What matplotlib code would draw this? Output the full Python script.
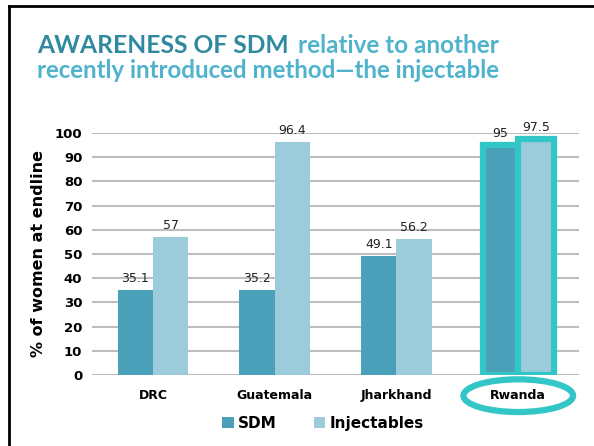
import numpy as np
from matplotlib import pyplot as plt
from matplotlib.patches import Ellipse
from matplotlib.lines import Line2D

# data
countries = ['DRC', 'Guatemala', 'Jharkhand', 'Rwanda']
sdm = [35.1, 35.2, 49.1, 95]
injectables = [57, 96.4, 56.2, 97.5]
yticks = [0, 10, 20, 30, 40, 50, 60, 70, 80, 90, 100]

sdm_col = '#4aa0b8'
inj_col = '#9ccbdc'
hl_col = '#33c6c6'
dark_title = '#2f8aa0'
light_title = '#4fb3cc'

fig = plt.figure(figsize=(5.94, 4.46), dpi=100)
ax = fig.add_axes([0.155, 0.159, 0.82, 0.543])

x = np.arange(len(countries))
w = 0.29
b1 = ax.bar(x - w / 2, sdm, w, color=sdm_col, zorder=3, label='SDM')
b2 = ax.bar(x + w / 2, injectables, w, color=inj_col, zorder=3, label='Injectables')

# highlight rwanda
for b in (b1[3], b2[3]):
    b.set_edgecolor(hl_col)
    b.set_linewidth(4.5)

for xi, v in zip(x - w / 2, sdm):
    ax.text(xi, v + 2, f'{v:g}', ha='center', va='bottom', fontsize=9, color='#222222')
for xi, v in zip(x + w / 2, injectables):
    ax.text(xi, v + 2, f'{v:g}', ha='center', va='bottom', fontsize=9, color='#222222')

ax.set_xlim(-0.5, 3.5)
ax.set_ylim(0, 100)
ax.set_yticks(yticks)
ax.set_xticks(x)
ax.set_xticklabels(countries, fontsize=9, fontweight='bold')
ax.set_yticklabels([str(t) for t in yticks], fontsize=9.5, fontweight='bold')
ax.tick_params(length=0)
ax.tick_params(axis='x', pad=10)
ax.tick_params(axis='y', pad=7)
ax.yaxis.grid(True, color='#bdbdbd', linewidth=1.5, zorder=0)
for s in ax.spines.values():
    s.set_visible(False)
ax.set_ylabel('% of women at endline', fontsize=11.5, fontweight='bold', labelpad=6)

# ring round rwanda label
ell = Ellipse((3, -8.5), 0.9, 13.5, fill=False, edgecolor=hl_col, linewidth=4.5, clip_on=False, zorder=5)
ax.add_patch(ell)

ax.legend(loc='upper center', bbox_to_anchor=(0.474, -0.112), ncol=2, frameon=False,
          prop={'weight': 'bold', 'size': 11}, handlelength=0.75, handleheight=0.75,
          handletextpad=0.3, columnspacing=2.4)

# title
t1 = fig.text(37 / 594, 1 - 53 / 446, 'AWARENESS OF SDM', fontsize=17.7, fontweight='bold',
              color=dark_title, family='Lato')
fig.canvas.draw()
bb = t1.get_window_extent()
fig.text((bb.x1 + 9) / 594, 1 - 53 / 446, 'relative to another', fontsize=17.5, fontweight='bold',
         color=light_title, family='Lato')
fig.text(37 / 594, 1 - 78 / 446, 'recently introduced method\u2014the injectable', fontsize=17.3,
         fontweight='bold', color=light_title, family='Lato')

# slide frame
fig.add_artist(Line2D([9 / 594, 9 / 594], [0, 1 - 6 / 446], color='black', linewidth=2))
fig.add_artist(Line2D([9 / 594, 1], [1 - 6 / 446, 1 - 6 / 446], color='black', linewidth=2))

fig.savefig('out.png', dpi=100)
